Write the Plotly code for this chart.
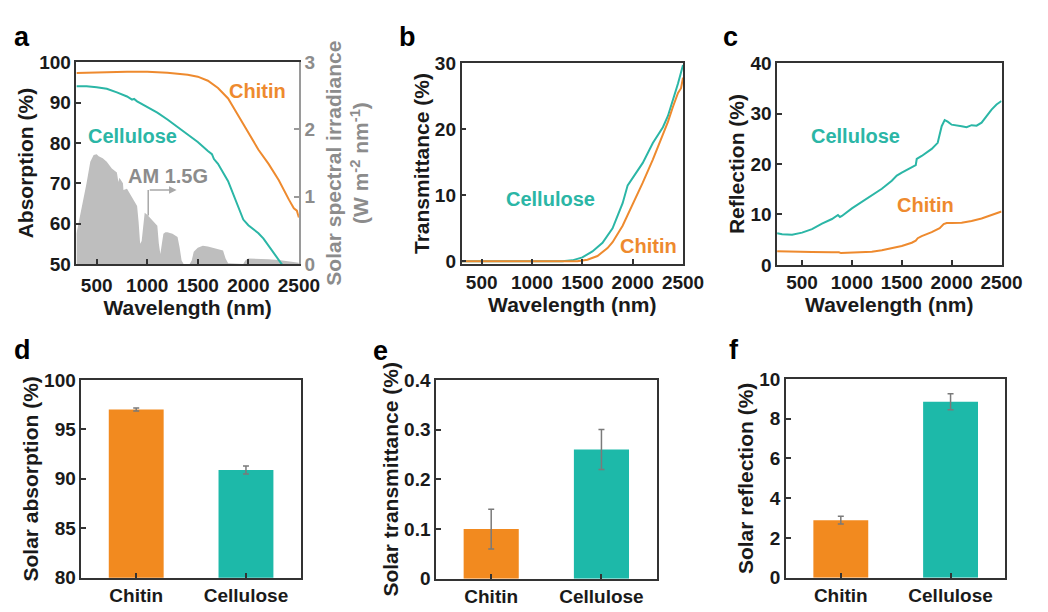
import plotly.graph_objects as go

W, H = 1048, 612

# ---------------- data ----------------
# panel a: absorption spectra (%)
wl_abs_chitin = [300, 400, 600, 800, 1000, 1200, 1400, 1500, 1600, 1700, 1800, 1900, 2000, 2100, 2200, 2300, 2400, 2450, 2480, 2500]
abs_chitin = [97.3, 97.4, 97.5, 97.6, 97.6, 97.4, 96.9, 96.4, 95.4, 93.6, 91.0, 86.8, 82.5, 78.3, 74.8, 70.8, 66.0, 63.8, 63.2, 61.5]
wl_abs_cell = [300, 400, 500, 600, 700, 800, 850, 870, 900, 1000, 1100, 1200, 1300, 1400, 1500, 1600, 1640, 1660, 1700, 1800, 1900, 1950, 2000, 2100, 2150, 2200, 2300, 2400, 2500]
abs_cell = [94.0, 94.0, 93.8, 93.4, 92.5, 91.5, 90.7, 90.9, 90.3, 89.0, 87.5, 85.8, 84.0, 82.2, 80.2, 78.0, 77.2, 76.0, 74.8, 70.5, 64.0, 61.0, 59.6, 57.6, 56.3, 54.6, 51.0, 47.5, 45.0]
# AM 1.5G solar spectral irradiance (W m-2 nm-1)
wl_am = [300, 340, 373, 400, 437, 470, 500, 520, 560, 600, 650, 700, 715, 725, 760, 765, 800, 850, 900, 915, 930, 945, 960, 975, 1000, 1050, 1100, 1115, 1130, 1145, 1160, 1180, 1200, 1250, 1300, 1320, 1340, 1360, 1420, 1440, 1460, 1500, 1550, 1600, 1650, 1700, 1750, 1775, 1800, 1950, 1970, 2000, 2100, 2200, 2300, 2400, 2500]
am15g = [0.45, 0.75, 0.95, 1.20, 1.52, 1.62, 1.63, 1.60, 1.57, 1.52, 1.42, 1.36, 1.22, 1.28, 1.20, 1.10, 1.12, 1.00, 0.86, 0.62, 0.30, 0.34, 0.55, 0.76, 0.73, 0.65, 0.57, 0.30, 0.15, 0.30, 0.45, 0.47, 0.47, 0.45, 0.40, 0.25, 0.05, 0.0, 0.0, 0.05, 0.18, 0.24, 0.27, 0.26, 0.24, 0.22, 0.20, 0.08, 0.01, 0.0, 0.05, 0.08, 0.08, 0.07, 0.06, 0.04, 0.02]

# panel b: transmittance spectra (%)
wl_tr_cell = [300, 1300, 1400, 1500, 1600, 1700, 1800, 1900, 1950, 2000, 2100, 2200, 2250, 2300, 2350, 2400, 2450, 2500]
tr_cell = [0.0, 0.0, 0.15, 0.6, 1.5, 2.8, 5.0, 8.8, 11.5, 12.7, 14.9, 17.9, 19.2, 20.3, 22.0, 24.3, 26.9, 29.7]
wl_tr_chitin = [300, 1450, 1550, 1650, 1750, 1800, 1900, 2000, 2100, 2200, 2300, 2350, 2400, 2450, 2480, 2500]
tr_chitin = [0.0, 0.0, 0.25, 0.8, 2.0, 2.9, 5.4, 8.6, 11.9, 15.4, 19.1, 21.1, 23.4, 25.5, 26.2, 27.8]

# panel c: reflection spectra (%)
wl_ref_cell = [250, 300, 400, 500, 600, 700, 800, 860, 880, 900, 1000, 1100, 1200, 1300, 1400, 1450, 1500, 1600, 1640, 1650, 1700, 1800, 1860, 1900, 1930, 1960, 2000, 2100, 2150, 2200, 2250, 2300, 2350, 2400, 2450, 2500]
ref_cell = [6.3, 6.1, 6.0, 6.4, 7.1, 8.2, 9.1, 9.9, 9.5, 9.7, 11.2, 12.5, 13.8, 15.1, 16.7, 17.7, 18.3, 19.3, 19.8, 21.0, 21.6, 23.0, 24.2, 27.5, 28.7, 28.4, 27.8, 27.5, 27.3, 27.7, 27.6, 28.2, 29.5, 30.8, 31.8, 32.5]
wl_ref_chitin = [250, 400, 600, 800, 870, 890, 1000, 1100, 1200, 1300, 1400, 1500, 1600, 1640, 1660, 1700, 1800, 1880, 1920, 1950, 2000, 2100, 2200, 2300, 2400, 2450, 2500]
ref_chitin = [2.7, 2.6, 2.55, 2.5, 2.5, 2.35, 2.4, 2.45, 2.6, 2.9, 3.3, 3.75, 4.4, 4.8, 5.3, 5.7, 6.5, 7.3, 8.1, 8.3, 8.3, 8.35, 8.7, 9.2, 9.9, 10.3, 10.6]

# panels d-f: solar-weighted values
materials = ["Chitin", "Cellulose"]
solar_absorption = [97.0, 90.9]
solar_absorption_err = [0.15, 0.4]
solar_transmittance = [0.10, 0.26]
solar_transmittance_err = [0.04, 0.04]
solar_reflection = [2.9, 8.85]
solar_reflection_err = [0.2, 0.4]

# ---------------- styles ----------------
ORANGE = "#EE8A2E"
TEAL = "#2BB6A6"
BAR_ORANGE = "#F28A1F"
BAR_TEAL = "#1DB9A9"
GRAY_FILL = "#BEBEBE"
GRAY_TXT = "#8C8C8C"
DARK = "#1a1a1a"
FAM = "Liberation Sans, Arial, sans-serif"
TICKFONT = dict(family=FAM, size=19, color=DARK, weight="bold")
TITLEFONT = dict(family=FAM, size=21, color=DARK, weight="bold")
LABELFONT = dict(family=FAM, size=20, weight="bold")


def dx(a, b):
    return [a / W, b / W]


def dy(top, bottom):
    return [1 - bottom / H, 1 - top / H]


common = dict(showline=True, linecolor="#333", linewidth=1.5, ticks="inside", ticklen=5,
              tickwidth=1.5, tickcolor="#333", showgrid=False, zeroline=False,
              tickfont=TICKFONT, title_font=TITLEFONT, ticklabelstandoff=0)

fig = go.Figure()

# panel a
fig.add_trace(go.Scatter(x=wl_am, y=am15g, mode="lines", fill="tozeroy", fillcolor=GRAY_FILL,
                         line=dict(width=0, color=GRAY_FILL), xaxis="x", yaxis="y", showlegend=False))
fig.add_trace(go.Scatter(x=wl_abs_chitin, y=abs_chitin, mode="lines", line=dict(color=ORANGE, width=2),
                         xaxis="x", yaxis="y2", showlegend=False))
fig.add_trace(go.Scatter(x=wl_abs_cell, y=abs_cell, mode="lines", line=dict(color=TEAL, width=2),
                         xaxis="x", yaxis="y2", showlegend=False))
# panel b
fig.add_trace(go.Scatter(x=wl_tr_cell, y=tr_cell, mode="lines", line=dict(color=TEAL, width=2),
                         xaxis="x3", yaxis="y3", showlegend=False))
fig.add_trace(go.Scatter(x=wl_tr_chitin, y=tr_chitin, mode="lines", line=dict(color=ORANGE, width=2),
                         xaxis="x3", yaxis="y3", showlegend=False))
# panel c
fig.add_trace(go.Scatter(x=wl_ref_cell, y=ref_cell, mode="lines", line=dict(color=TEAL, width=2),
                         xaxis="x4", yaxis="y4", showlegend=False))
fig.add_trace(go.Scatter(x=wl_ref_chitin, y=ref_chitin, mode="lines", line=dict(color=ORANGE, width=2),
                         xaxis="x4", yaxis="y4", showlegend=False))

# bars
for vals, errs, xa, ya in [(solar_absorption, solar_absorption_err, "x5", "y5"),
                           (solar_transmittance, solar_transmittance_err, "x6", "y6"),
                           (solar_reflection, solar_reflection_err, "x7", "y7")]:
    fig.add_trace(go.Bar(x=materials, y=vals, width=0.5, marker=dict(color=[BAR_ORANGE, BAR_TEAL], line=dict(width=0)),
                         error_y=dict(type="data", array=errs, color="#7a7a7a", thickness=1.5, width=3),
                         xaxis=xa, yaxis=ya, showlegend=False))

wl_ticks = [500, 1000, 1500, 2000, 2500]

layout = dict(
    width=W, height=612, margin=dict(l=0, r=0, t=0, b=0),
    paper_bgcolor="white", plot_bgcolor="white",
    font=dict(family=FAM, color=DARK),
    xaxis=dict(common, domain=dx(78, 305), range=[300, 2500], tickvals=wl_ticks, anchor="y", mirror=True,
               ticklabelstandoff=3, title=dict(text="Wavelength (nm)", standoff=0)),
    yaxis=dict(common, domain=dy(54, 263), range=[0, 3], tickvals=[0, 1, 2, 3], anchor="x", side="right",
               linecolor="#9a9a9a", tickcolor="#9a9a9a",
               tickfont=dict(TICKFONT, color=GRAY_TXT),
               title=dict(text="Solar spectral irradiance<br>(W m<sup>-2</sup> nm<sup>-1</sup>)",
                          font=dict(TITLEFONT, color=GRAY_TXT), standoff=12)),
    yaxis2=dict(common, range=[50, 100], tickvals=[50, 60, 70, 80, 90, 100], anchor="x", side="left",
                overlaying="y", title=dict(text="Absorption (%)", standoff=0)),
    xaxis3=dict(common, domain=dx(471, 697), range=[300, 2500], tickvals=wl_ticks, anchor="y3", mirror=True,
                title=dict(text="Wavelength (nm)", standoff=2)),
    yaxis3=dict(common, domain=dy(55, 263), range=[-0.4, 30], tickvals=[0, 10, 20, 30], anchor="x3", mirror=True,
                title=dict(text="Transmittance (%)", standoff=0)),
    xaxis4=dict(common, domain=dx(793, 1022), range=[250, 2500], tickvals=wl_ticks, anchor="y4", mirror=True,
                title=dict(text="Wavelength (nm)", standoff=2)),
    yaxis4=dict(common, domain=dy(55, 264), range=[0, 40], tickvals=[0, 10, 20, 30, 40], anchor="x4", mirror=True,
                title=dict(text="Reflection (%)", standoff=0)),
    xaxis5=dict(common, domain=dx(83, 307), range=[-0.5, 1.5], type="category", anchor="y5", mirror=True),
    yaxis5=dict(common, domain=dy(383, 588), range=[80, 100], tickvals=[80, 85, 90, 95, 100], anchor="x5", mirror=True,
                title=dict(text="Solar absorption (%)", standoff=0)),
    xaxis6=dict(common, domain=dx(445, 670), range=[-0.5, 1.5], type="category", anchor="y6", mirror=True),
    yaxis6=dict(common, domain=dy(383, 589), range=[0, 0.4], tickvals=[0, 0.1, 0.2, 0.3, 0.4], anchor="x6", mirror=True,
                title=dict(text="Solar transmittance (%)", standoff=0)),
    xaxis7=dict(common, domain=dx(802, 1026), range=[-0.5, 1.5], type="category", anchor="y7", mirror=True),
    yaxis7=dict(common, domain=dy(382, 588), range=[0, 10], tickvals=[0, 2, 4, 6, 8, 10], anchor="x7", mirror=True,
                title=dict(text="Solar reflection (%)", standoff=0)),
)
fig.update_layout(**layout)

ann = []
# curve labels
ann.append(dict(x=2095, y=92.8, xref="x", yref="y2", text="Chitin", showarrow=False, font=dict(LABELFONT, color=ORANGE)))
ann.append(dict(x=851, y=81.6, xref="x", yref="y2", text="Cellulose", showarrow=False, font=dict(LABELFONT, color=TEAL)))
ann.append(dict(x=1206, y=71.9, xref="x", yref="y2", text="AM 1.5G", showarrow=False, font=dict(LABELFONT, color=GRAY_TXT)))
ann.append(dict(x=1290, y=68.3, xref="x", yref="y2", ax=1010, ay=68.3, axref="x", ayref="y2", text="",
                showarrow=True, arrowhead=2, arrowsize=1, arrowwidth=1.5, arrowcolor="#A8A8A8"))
ann.append(dict(x=1184, y=9.5, xref="x3", yref="y3", text="Cellulose", showarrow=False, font=dict(LABELFONT, color=TEAL)))
ann.append(dict(x=2160, y=2.3, xref="x3", yref="y3", text="Chitin", showarrow=False, font=dict(LABELFONT, color=ORANGE)))
ann.append(dict(x=1032, y=25.5, xref="x4", yref="y4", text="Cellulose", showarrow=False, font=dict(LABELFONT, color=TEAL)))
ann.append(dict(x=1735, y=11.9, xref="x4", yref="y4", text="Chitin", showarrow=False, font=dict(LABELFONT, color=ORANGE)))
# panel letters
for letter, px, py in [("a", 22, 28), ("b", 416, 28), ("c", 745, 28), ("d", 23, 352), ("e", 388, 353), ("f", 749, 352)]:
    ann.append(dict(x=px / W, y=1 - py / H, xref="paper", yref="paper", text=letter, showarrow=False,
                    font=dict(family=FAM, size=27, color="black", weight="bold"), xanchor="center", yanchor="middle"))
fig.update_layout(annotations=ann)

fig.add_shape(type="line", x0=1010, x1=1010, y0=62.0, y1=68.3, xref="x", yref="y2",
              line=dict(color="#A8A8A8", width=1.5))

fig.write_html("out.html")
